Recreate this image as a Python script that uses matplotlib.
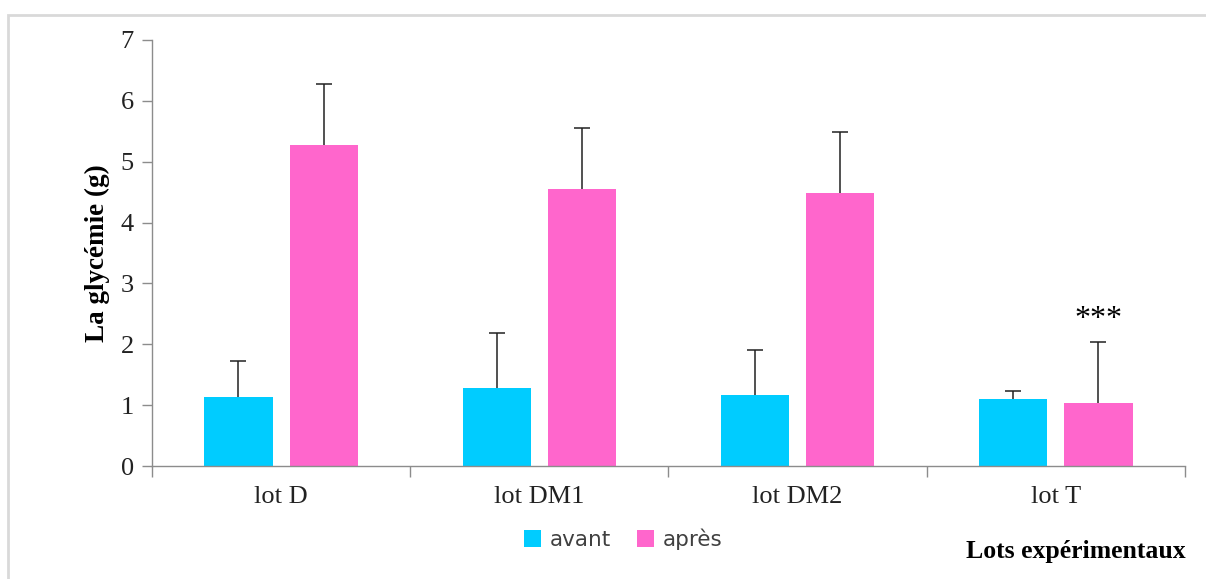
import numpy as np
import matplotlib.pyplot as plt
from matplotlib.patches import Rectangle

lots = ["lot D", "lot DM1", "lot DM2", "lot T"]
avant = [1.13, 1.28, 1.17, 1.11]
avant_err = [0.60, 0.91, 0.74, 0.12]
apres = [5.28, 4.55, 4.48, 1.04]
apres_err = [1.00, 1.00, 1.00, 1.00]

c_avant = "#00CCFF"
c_apres = "#FF66CC"
axis_col = "#8c8c8c"

fig = plt.figure(figsize=(12.06, 5.79), dpi=100)
ax = fig.add_axes([0.126, 0.195, 0.8566, 0.736])

x = np.arange(len(lots))
w = 0.264
off = 0.165
ax.bar(x - off, avant, w, color=c_avant, label="avant", zorder=2)
ax.bar(x + off, apres, w, color=c_apres, label="après", zorder=2)

# upward-only error bars, cap on top only
for xs, vals, errs in [(x - off, avant, avant_err), (x + off, apres, apres_err)]:
    eb = ax.errorbar(xs, vals, yerr=[np.zeros(len(lots)), errs], fmt="none",
                     ecolor="#222222", elinewidth=1.1, capsize=6, capthick=1.1, zorder=3)
    eb[1][0].set_visible(False)

# significance mark over lot T
ax.text(x[3] + off, apres[3] + apres_err[3] + 0.36, "***", ha="center", va="center",
        fontsize=23, family="Liberation Serif")

ax.set_xlim(-0.5, len(lots) - 0.5)
ax.set_ylim(0, 7)
ax.set_yticks(range(0, 8))
ax.set_xticks(x)
ax.set_xticklabels(lots)
ax.set_xticks(np.arange(-0.5, len(lots), 1.0), minor=True)
ax.tick_params(axis="x", which="major", length=0, pad=14)
ax.tick_params(axis="x", which="minor", length=8, color=axis_col, width=1)
ax.tick_params(axis="y", length=7, color=axis_col, width=1, pad=6)
for lab in ax.get_xticklabels() + ax.get_yticklabels():
    lab.set_fontfamily("Liberation Serif")
    lab.set_fontsize(19)
    lab.set_color("#222222")

for s in ["top", "right"]:
    ax.spines[s].set_visible(False)
for s in ["left", "bottom"]:
    ax.spines[s].set_color(axis_col)
    ax.spines[s].set_linewidth(1)

ax.set_ylabel("La glycémie (g)", fontsize=19.5, fontweight="bold",
              family="Liberation Serif", labelpad=8)

fig.text(0.983, 0.047, "Lots expérimentaux", ha="right", va="center",
         fontsize=18.5, fontweight="bold", family="Liberation Serif")

leg = fig.legend(loc="center", bbox_to_anchor=(0.517, 0.069), ncol=2, frameon=False,
                 handlelength=0.8, handleheight=0.8, handletextpad=0.4,
                 columnspacing=1.2, prop={"family": "DejaVu Sans", "size": 15.5})
for t in leg.get_texts():
    t.set_color("#404040")

# light frame around the chart
fig.patches.append(Rectangle((8 / 1206, -0.1), 1.2, 1.1 - 15 / 579,
                             transform=fig.transFigure, fill=False,
                             edgecolor="#d9d9d9", linewidth=2))

fig.savefig("out.png", dpi=100)
